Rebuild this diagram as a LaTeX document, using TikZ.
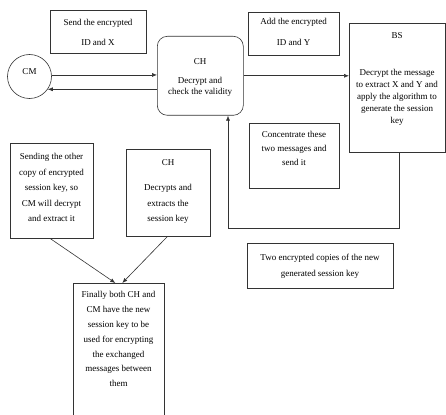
\documentclass[tikz,border=0pt]{standalone}
\usepackage{fontspec}
\setmainfont{Liberation Serif}
\usetikzlibrary{arrows.meta}
\tikzset{
  msgbox/.style={draw=black!80, line width=0.6pt, inner sep=0pt, anchor=north west},
  msgtext/.style={align=center, inner sep=0pt, anchor=north},
  flow/.style={draw=black!80, line width=0.6pt, -{Latex[length=5pt,width=4pt]}}
}
\begin{document}
\begin{tikzpicture}[x=1pt,y=-1pt]
\useasboundingbox (0,0) rectangle (446,414);
%CM
\node[draw=black!80, line width=0.6pt, circle, minimum size=44pt, inner sep=0pt] (cm) at (29.5,76.5) {};
\node[msgtext, font=\fontsize{9}{11}\selectfont] (cmtxt) at (29.5,68) {CM};
%send
\node[msgbox, minimum width=96pt, minimum height=43pt] (send) at (50,10) {};
\node[msgtext, font=\fontsize{9}{20}\selectfont] (sendtxt) at (98,19.5) {Send the encrypted\\ID and X};
%CH
\node[msgbox, rounded corners=10pt, minimum width=86pt, minimum height=79pt] (ch) at (157,36) {};
\node[msgtext, font=\fontsize{9}{11}\selectfont] (chtxt) at (200,58.5) {CH\\[8pt]Decrypt and\\check the validity};
%add
\node[msgbox, minimum width=91pt, minimum height=43pt] (add) at (248,12) {};
\node[msgtext, font=\fontsize{9}{21}\selectfont] (addtxt) at (293.5,18.5) {Add the encrypted\\ID and Y};
%BS
\node[msgbox, minimum width=96pt, minimum height=129pt] (bs) at (349,23) {};
\node[msgtext, font=\fontsize{9}{12}\selectfont] (bstxt) at (397,32.5) {BS\\[25pt]Decrypt the message\\to extract X and Y and\\apply the algorithm to\\generate the session\\key};
%concentrate
\node[msgbox, minimum width=90pt, minimum height=65pt] (conc) at (249,123) {};
\node[msgtext, font=\fontsize{9}{14}\selectfont] (conctxt) at (294,131.5) {Concentrate these\\two messages and\\send it};
%two copies
\node[msgbox, minimum width=146pt, minimum height=45pt] (copies) at (247,243) {};
\node[msgtext, font=\fontsize{9}{16}\selectfont] (copiestxt) at (320,253.5) {Two encrypted copies of the new\\generated session key};
%other copy
\node[msgbox, minimum width=83pt, minimum height=95pt] (other) at (10,143) {};
\node[msgtext, font=\fontsize{9}{15.5}\selectfont] (othertxt) at (51.5,153.5) {Sending the other\\copy of encrypted\\session key, so\\CM will decrypt\\and extract it};
%CH key
\node[msgbox, minimum width=84pt, minimum height=87pt] (chkey) at (126,149) {};
\node[msgtext, font=\fontsize{9}{15.5}\selectfont] (chkeytxt) at (168,159.5) {CH\\[9.5pt]Decrypts and\\extracts the\\session key};
%final
\node[msgbox, minimum width=91pt, minimum height=140pt] (final) at (73,283) {};
\node[msgtext, font=\fontsize{9}{14.8}\selectfont] (finaltxt) at (118.5,291.5) {Finally both CH and\\CM have the new\\session key to be\\used for encrypting\\the exchanged\\messages between\\them};
%arrows
\draw[flow] (cm.4) -- (cm.4 -| ch.west);
\draw[flow] (ch.west |- cm.-35) -- (cm.-35);
\draw[flow] (ch.east) -- (ch.east -| bs.west);
\coordinate (back) at (228,228);
\draw[flow] ([xshift=2pt]bs.south) |- (back) -- (back |- ch.south);
\draw[flow] ([xshift=-1.5pt]other.south) -- ([xshift=-3.5pt]final.north);
\draw[flow] ([xshift=-1pt]chkey.south) -- ([xshift=3.5pt]final.north);
\end{tikzpicture}
\end{document}
